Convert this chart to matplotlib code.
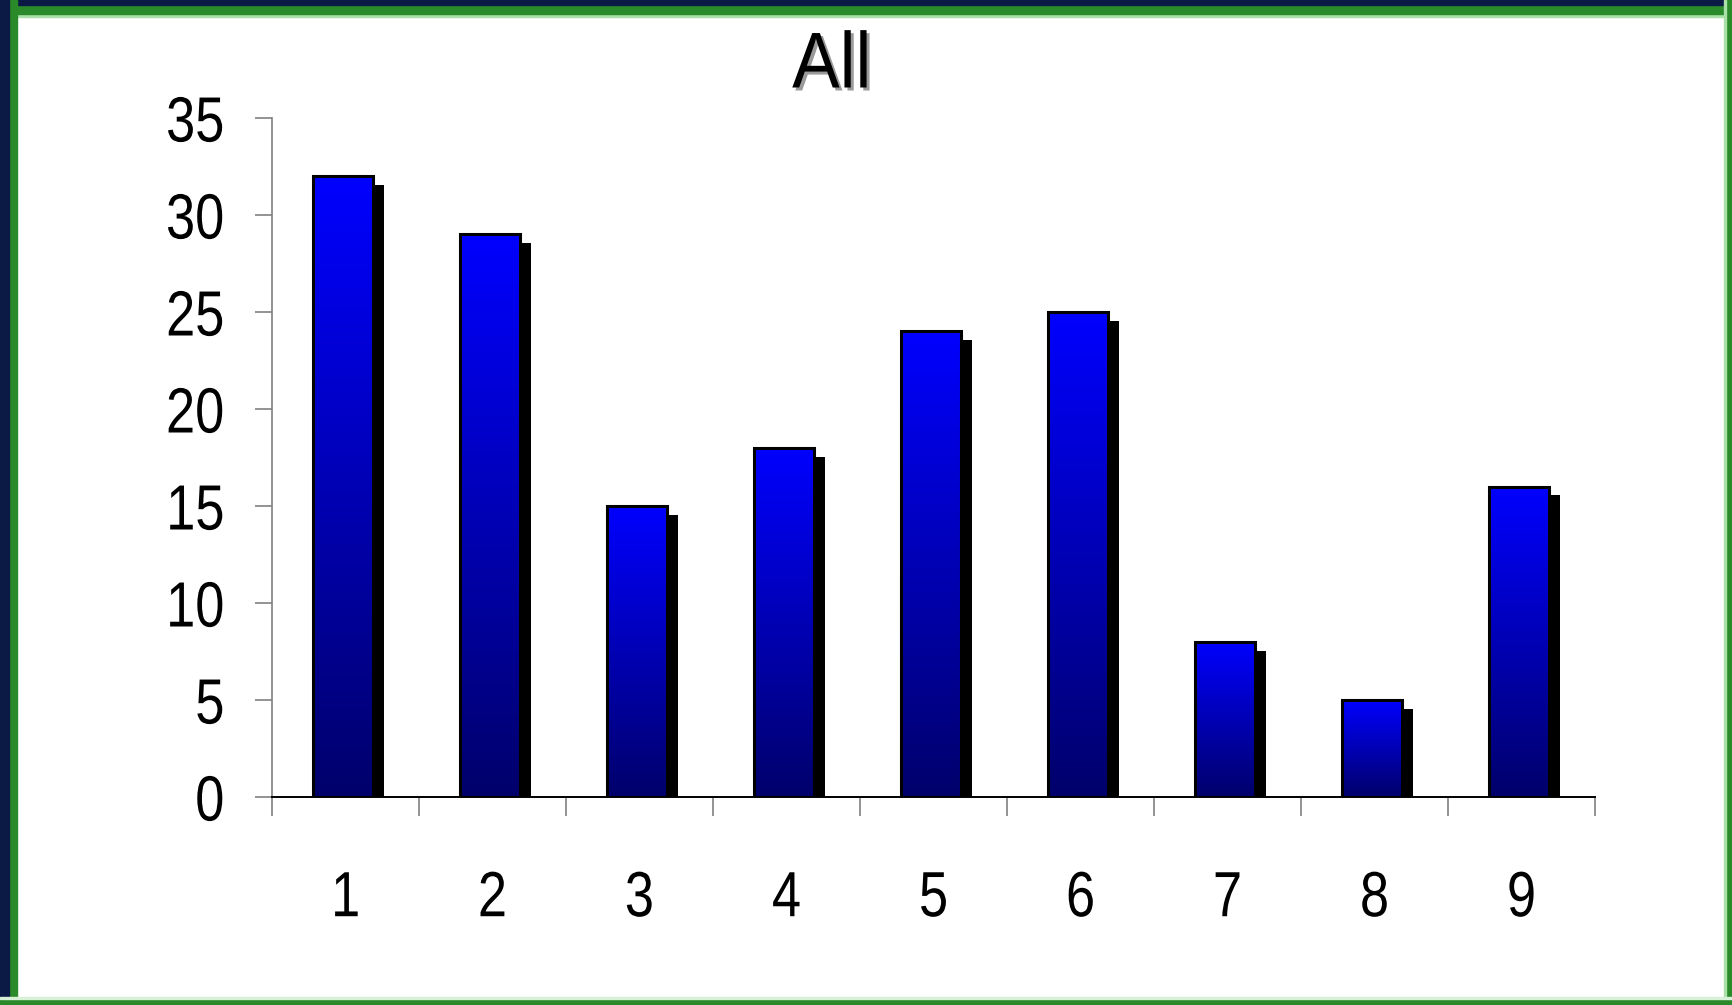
import numpy as np
import matplotlib
matplotlib.use("Agg")
import matplotlib.pyplot as plt
from matplotlib import font_manager
from matplotlib.patches import Rectangle
from matplotlib.colors import LinearSegmentedColormap
from matplotlib.patheffects import AbstractPathEffect
from matplotlib.transforms import Affine2D

categories = ["1", "2", "3", "4", "5", "6", "7", "8", "9"]
values = [32, 29, 15, 18, 24, 25, 8, 5, 16]
yticks = [0, 5, 10, 15, 20, 25, 30, 35]
title = "All"

fam = "Liberation Sans"
try:
    font_manager.findfont("Liberation Sans Narrow", fallback_to_default=False)
    fam = "Liberation Sans Narrow"
except Exception:
    pass
plt.rcParams['font.family'] = [fam, 'DejaVu Sans']


class Squeeze(AbstractPathEffect):
    # narrow the glyphs horizontally (reference uses an Arial Narrow look)
    def __init__(self, sx=0.82, anchor="center"):
        super().__init__()
        self.sx = sx
        self.anchor = anchor

    def draw_path(self, renderer, gc, tpath, affine, rgbFace=None):
        ext = tpath.get_extents()
        ax_ = ext.x1 if self.anchor == "right" else (ext.x0 + ext.x1) / 2
        t = Affine2D().translate(-ax_, 0).scale(self.sx, 1).translate(ax_, 0) + affine
        renderer.draw_path(gc, tpath, t, rgbFace)


fig = plt.figure(figsize=(17.33, 10.05), dpi=100)
fig.patch.set_facecolor("white")

W, H = 1733, 1005
def frame(x0, y0, x1, y1, color):
    fig.patches.append(Rectangle((x0 / W, 1 - y1 / H), (x1 - x0) / W, (y1 - y0) / H,
                                 transform=fig.transFigure, color=color, zorder=0))
frame(0, 0, W, 17, "#a8e0a8")
frame(0, 0, W, 14, "#2a8a2a")
frame(0, 0, W, 5, "#0b1a45")
frame(0, 0, 17, H, "#2a8a2a")
frame(0, 0, 9, H, "#0b1a45")
frame(W - 7, 0, W, H, "#2a8a2a")
frame(W - 9, 0, W - 7, H, "#a8e0a8")
frame(0, H - 6, W, H, "#2a8a2a")
frame(0, H - 8, W, H - 6, "#d8f0d8")

ax = fig.add_axes([272 / W, 1 - 797 / H, (1595 - 272) / W, (797 - 118) / H])
ax.set_facecolor("none")

x = np.arange(1, len(values) + 1)
bw = 0.41
xoff = -0.015
dx, dy = 0.075, 0.45

cmap = LinearSegmentedColormap.from_list("bl", [(0, 0, 0.42), (0, 0, 1.0)])
grad = np.linspace(0, 1, 256).reshape(-1, 1)

for xi, v in zip(x, values):
    x0 = xi + xoff - bw / 2
    ax.add_patch(Rectangle((x0 + dx, 0), bw, v - dy, facecolor="black",
                           edgecolor="none", zorder=2))
    ax.imshow(grad, extent=[x0, x0 + bw, 0, v], origin="lower", cmap=cmap,
              aspect="auto", zorder=3, interpolation="bilinear")
    ax.add_patch(Rectangle((x0, 0), bw, v, facecolor="none", edgecolor="black",
                           linewidth=2.2, zorder=4))

ax.set_xlim(0.5, len(values) + 0.5)
ax.set_ylim(0, 35)

for s in ["top", "right"]:
    ax.spines[s].set_visible(False)
ax.spines["left"].set_color("#808080")
ax.spines["left"].set_linewidth(1.2)
ax.spines["bottom"].set_color("black")
ax.spines["bottom"].set_linewidth(1.4)

ax.set_yticks(yticks)
ax.set_yticklabels([str(t) for t in yticks])
ax.tick_params(axis="y", direction="out", length=12, width=1.2, color="#808080",
               labelsize=46, pad=22)

ax.set_xticks(x)
ax.set_xticklabels(categories)
ax.set_xticks(np.arange(0.5, len(values) + 1), minor=True)
ax.tick_params(axis="x", which="major", length=0, labelsize=46, pad=52)
ax.tick_params(axis="x", which="minor", direction="out", length=14, width=1.2,
               color="#808080")

if fam != "Liberation Sans Narrow":
    for lab in ax.get_yticklabels():
        lab.set_path_effects([Squeeze(0.82, "right")])
    for lab in ax.get_xticklabels():
        lab.set_path_effects([Squeeze(0.82, "center")])

t1 = fig.text(835 / W, 1 - 70 / H, title, fontsize=57, color="#9a9a9a",
              ha="center", va="center")
t2 = fig.text(832 / W, 1 - 67 / H, title, fontsize=57, color="black",
              ha="center", va="center")
if fam != "Liberation Sans Narrow":
    t1.set_path_effects([Squeeze(0.9, "center")])
    t2.set_path_effects([Squeeze(0.9, "center")])

fig.savefig("out.png", dpi=100)
